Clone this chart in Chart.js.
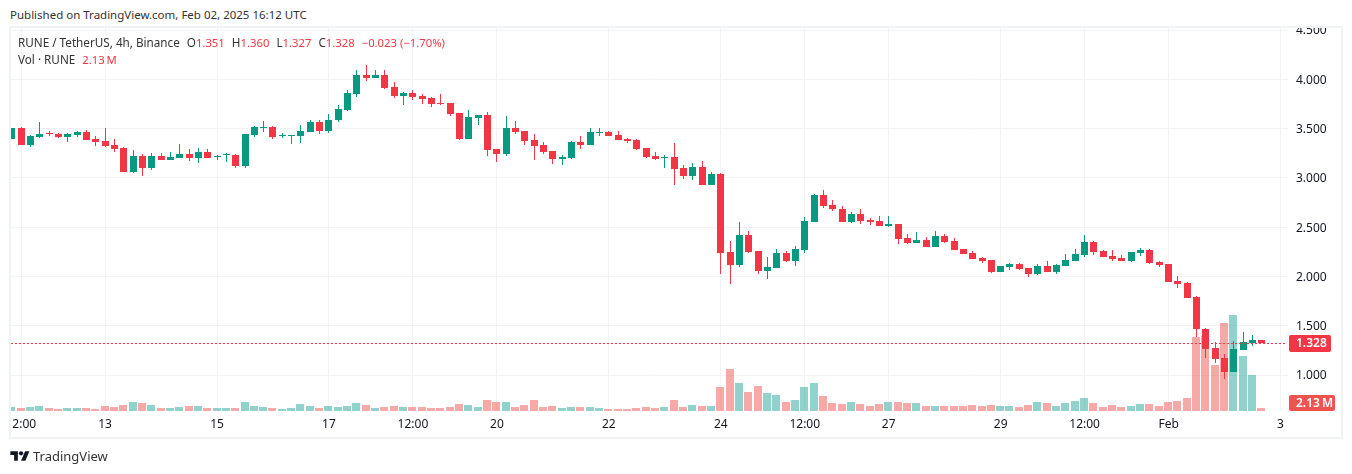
<!DOCTYPE html>
<html>
<head>
<meta charset="utf-8">
<script src="https://cdn.jsdelivr.net/npm/chart.js@4"></script>
<style>
    html, body { margin: 0; padding: 0; background: #fff; }
    body { width: 1352px; height: 474px; overflow: hidden; position: relative; font-family: "Noto Sans", sans-serif; color: #131722; }
    canvas { position: absolute; left: 0; top: 0; }
    .header { position: absolute; left: 0; top: 0; width: 1352px; height: 26px; background: #fff; }
    .published { position: absolute; left: 10px; top: 6px; font-size: 11.5px; line-height: 18px; white-space: nowrap; color: #333; }
    .frame { position: absolute; left: 9px; top: 26px; width: 1330px; height: 409px; border: 2px solid #f2f3f5; pointer-events: none; }
    .legend { position: absolute; left: 18px; font-size: 11.7px; line-height: 18px; white-space: nowrap; color: #333; }
    .legend b { font-weight: normal; font-size: 11.3px; color: #f23645; }
    .legend span { margin-left: 7px; }
    .brand { position: absolute; left: 33px; top: 447px; font-size: 13px; line-height: 18px; color: #333; }
    .logo { position: absolute; left: 10px; top: 449px; }
</style>
</head>
<body>
<canvas id="chart" width="1352" height="474"></canvas>
<div class="header"><div class="published">Published on TradingView.com, Feb 02, 2025 16:12 UTC</div></div>
<div class="frame"></div>
<div class="legend" style="top:33px">RUNE / TetherUS, 4h, Binance<span>O<b>1.351</b></span><span>H<b>1.360</b></span><span>L<b>1.327</b></span><span>C<b>1.328</b></span><span><b>−0.023 (−1.70%)</b></span></div>
<div class="legend" style="top:50px">Vol · RUNE<span><b>2.13&#8201;M</b></span></div>
<svg class="logo" width="20" height="15" viewBox="0 0 36 28" fill="#131722"><path d="M14 22H7V11H0V4h14v18zM28 22h-8l7.5-18h8L28 22z"/><circle cx="20" cy="8" r="4"/></svg>
<div class="brand">TradingView</div>

<script>
const opens = [
    3.395, 3.506, 3.337, 3.415, 3.456, 3.445, 3.418, 3.439, 3.466, 3.395,
    3.374, 3.334, 3.303, 3.060, 3.222, 3.100, 3.222, 3.182, 3.202, 3.242,
    3.202, 3.263, 3.209, 3.229, 3.232, 3.121, 3.435, 3.506, 3.516, 3.425,
    3.425, 3.425, 3.466, 3.567, 3.476, 3.587, 3.689, 3.851, 4.044, 4.014,
    4.044, 3.922, 3.831, 3.861, 3.834, 3.811, 3.757, 3.763, 3.659, 3.395,
    3.608, 3.638, 3.293, 3.243, 3.506, 3.476, 3.385, 3.334, 3.273, 3.192,
    3.202, 3.364, 3.334, 3.456, 3.466, 3.435, 3.395, 3.385, 3.303, 3.222,
    3.202, 3.212, 3.100, 3.019, 3.111, 2.928, 3.040, 2.248, 2.116, 2.421,
    2.258, 2.055, 2.086, 2.238, 2.157, 2.269, 2.553, 2.827, 2.725, 2.685,
    2.553, 2.634, 2.573, 2.563, 2.512, 2.532, 2.390, 2.339, 2.370, 2.299,
    2.410, 2.360, 2.279, 2.238, 2.187, 2.167, 2.045, 2.096, 2.126, 2.086,
    2.025, 2.106, 2.045, 2.106, 2.157, 2.218, 2.350, 2.258, 2.208, 2.187,
    2.157, 2.238, 2.269, 2.147, 2.126, 1.954, 1.934, 1.792, 1.467, 1.274,
    1.173, 1.031, 1.254, 1.325, 1.351
];
const closes = [
    3.510, 3.337, 3.425, 3.445, 3.445, 3.418, 3.445, 3.466, 3.388, 3.364,
    3.324, 3.293, 3.060, 3.222, 3.100, 3.222, 3.182, 3.212, 3.242, 3.202,
    3.263, 3.202, 3.222, 3.239, 3.121, 3.445, 3.516, 3.516, 3.415, 3.435,
    3.435, 3.476, 3.567, 3.476, 3.587, 3.696, 3.861, 4.044, 4.014, 4.044,
    3.912, 3.831, 3.861, 3.821, 3.800, 3.750, 3.746, 3.648, 3.395, 3.618,
    3.638, 3.283, 3.243, 3.506, 3.466, 3.374, 3.324, 3.263, 3.192, 3.212,
    3.364, 3.334, 3.466, 3.466, 3.425, 3.385, 3.374, 3.293, 3.212, 3.192,
    3.212, 3.090, 3.019, 3.111, 2.928, 3.040, 2.238, 2.116, 2.421, 2.248,
    2.055, 2.096, 2.238, 2.157, 2.279, 2.563, 2.827, 2.715, 2.685, 2.553,
    2.634, 2.563, 2.553, 2.512, 2.532, 2.380, 2.339, 2.370, 2.299, 2.410,
    2.350, 2.269, 2.228, 2.177, 2.157, 2.045, 2.106, 2.126, 2.076, 2.025,
    2.106, 2.045, 2.116, 2.167, 2.228, 2.350, 2.248, 2.197, 2.177, 2.157,
    2.248, 2.269, 2.137, 2.116, 1.944, 1.924, 1.782, 1.467, 1.264, 1.163,
    1.031, 1.264, 1.335, 1.355, 1.328
];
const highs = [
    3.510, 3.513, 3.432, 3.567, 3.476, 3.452, 3.452, 3.476, 3.483, 3.425,
    3.506, 3.395, 3.314, 3.283, 3.242, 3.253, 3.253, 3.263, 3.344, 3.293,
    3.303, 3.293, 3.232, 3.253, 3.242, 3.445, 3.527, 3.577, 3.527, 3.456,
    3.435, 3.537, 3.587, 3.587, 3.648, 3.740, 3.892, 4.095, 4.145, 4.095,
    4.095, 3.973, 3.871, 3.892, 3.851, 3.821, 3.851, 3.763, 3.659, 3.689,
    3.638, 3.669, 3.293, 3.628, 3.577, 3.476, 3.445, 3.364, 3.273, 3.232,
    3.374, 3.425, 3.506, 3.506, 3.476, 3.476, 3.405, 3.395, 3.303, 3.263,
    3.232, 3.354, 3.131, 3.151, 3.171, 3.060, 3.050, 2.360, 2.553, 2.461,
    2.258, 2.198, 2.279, 2.258, 2.309, 2.603, 2.837, 2.877, 2.776, 2.715,
    2.654, 2.685, 2.593, 2.613, 2.613, 2.532, 2.431, 2.451, 2.400, 2.461,
    2.431, 2.390, 2.279, 2.258, 2.198, 2.167, 2.106, 2.137, 2.137, 2.086,
    2.126, 2.157, 2.126, 2.228, 2.279, 2.421, 2.360, 2.269, 2.269, 2.218,
    2.248, 2.289, 2.279, 2.157, 2.126, 2.005, 1.944, 1.802, 1.477, 1.335,
    1.213, 1.345, 1.437, 1.406, 1.360
];
const lows = [
    3.395, 3.337, 3.314, 3.408, 3.425, 3.408, 3.364, 3.415, 3.385, 3.324,
    3.317, 3.263, 3.060, 3.050, 3.019, 3.080, 3.182, 3.182, 3.202, 3.171,
    3.151, 3.202, 3.182, 3.161, 3.100, 3.100, 3.415, 3.466, 3.395, 3.405,
    3.344, 3.354, 3.466, 3.445, 3.459, 3.567, 3.679, 3.821, 3.983, 4.014,
    3.902, 3.811, 3.740, 3.790, 3.750, 3.719, 3.740, 3.628, 3.385, 3.395,
    3.537, 3.222, 3.161, 3.222, 3.445, 3.334, 3.182, 3.243, 3.141, 3.131,
    3.192, 3.293, 3.334, 3.425, 3.425, 3.385, 3.354, 3.283, 3.202, 3.182,
    3.100, 2.928, 2.989, 2.979, 2.928, 2.928, 2.025, 1.924, 2.096, 2.238,
    2.025, 1.974, 2.086, 2.147, 2.106, 2.238, 2.553, 2.695, 2.664, 2.553,
    2.543, 2.532, 2.522, 2.512, 2.502, 2.329, 2.329, 2.339, 2.299, 2.299,
    2.339, 2.269, 2.228, 2.177, 2.137, 2.035, 2.045, 2.066, 2.066, 1.995,
    2.015, 2.045, 2.025, 2.106, 2.157, 2.197, 2.218, 2.197, 2.157, 2.157,
    2.147, 2.208, 2.126, 2.096, 1.944, 1.883, 1.782, 1.386, 1.173, 1.122,
    0.960, 1.031, 1.254, 1.295, 1.327
];
// millions of RUNE
const volumes = [
    3.2, 2.4, 3.2, 4.0, 2.4, 1.6, 2.4, 2.4, 2.4, 1.6,
    4.0, 3.2, 4.8, 7.2, 6.4, 4.8, 2.4, 2.4, 3.2, 4.0,
    4.0, 2.4, 2.4, 2.4, 2.4, 7.2, 4.0, 3.2, 2.4, 1.6,
    2.4, 5.6, 4.0, 2.4, 4.0, 3.2, 4.0, 6.4, 4.8, 2.4,
    3.2, 4.0, 3.2, 3.2, 3.2, 2.4, 2.4, 3.2, 5.6, 4.8,
    3.2, 8.8, 7.2, 7.2, 3.2, 4.8, 8.8, 3.2, 4.0, 2.4,
    3.2, 3.2, 3.2, 2.4, 1.6, 1.6, 1.6, 2.4, 3.2, 2.4,
    3.2, 8.8, 3.2, 4.8, 4.0, 4.0, 19.2, 33.6, 22.4, 15.2,
    20.0, 14.4, 12.8, 7.2, 8.8, 19.2, 22.4, 12.0, 6.4, 5.6,
    7.2, 5.6, 4.0, 5.6, 7.2, 7.2, 6.4, 6.4, 4.0, 4.0,
    4.0, 4.0, 4.0, 4.8, 4.0, 4.8, 4.0, 4.0, 3.2, 4.8,
    7.2, 6.4, 4.0, 6.4, 8.0, 10.4, 6.4, 3.2, 4.8, 3.2,
    4.0, 5.6, 5.6, 4.0, 7.2, 8.0, 10.4, 59.2, 60.0, 36.8,
    70.4, 76.8, 44.0, 28.8, 2.13
];
const xTickBars = [1, 10, 22, 34, 43, 52, 64, 76, 85, 94, 106, 115, 124, 136];
const xTickLabels = ['2:00', '13', '15', '17', '12:00', '20', '22', '24', '12:00', '27', '29', '12:00', 'Feb', '3'];
const priceTicks = [1, 1.5, 2, 2.5, 3, 3.5, 4, 4.5];
const lastPrice = 1.328;
const lastVolume = '2.13\u2009M';

const GREEN = '#089981';
const RED = '#f23645';
const GRID = '#f2f3f5';
const AXIS_FONT = { family: '"Noto Sans", sans-serif', size: 12 };

const isUp = i => closes[i] >= opens[i];
const candleColors = opens.map((_, i) => isUp(i) ? GREEN : RED);
const volumeColors = opens.map((_, i) => isUp(i) ? 'rgba(38, 166, 154, 0.5)' : 'rgba(239, 83, 80, 0.5)');

const X_MIN = -0.125;
const X_MAX = 136.8;

// TradingView draws on whole pixels, so snap the marks after layout
const pixelSnap = {
    id: 'pixelSnap',
    afterDatasetsUpdate(chart) {
        chart.data.datasets.forEach((ds, n) => {
            const marks = chart.getDatasetMeta(n).data;
            if (ds.type === 'line') {
                marks.forEach(pt => { pt.x = Math.round(pt.x); pt.y = Math.round(pt.y) + 0.5; });
                return;
            }
            marks.forEach(bar => {
                bar.x = ds.label === 'Volume' ? Math.floor(bar.x) : Math.floor(bar.x) + 0.5;
                bar.y = Math.round(bar.y);
                bar.base = Math.round(bar.base);
                if (bar.y === bar.base) bar.y -= 1;
            });
        });
    }
};

const lastValueTags = {
    id: 'lastValueTags',
    afterDraw(chart) {
        const ctx = chart.ctx;
        const area = chart.chartArea;
        const priceY = Math.round(chart.scales.y.getPixelForValue(lastPrice));
        const tag = (x, y, w, h, color, text) => {
            ctx.save();
            ctx.fillStyle = color;
            ctx.beginPath();
            ctx.roundRect(x, y, w, h, 2);
            ctx.fill();
            ctx.fillStyle = '#fff';
            ctx.font = '600 12px "Noto Sans", sans-serif';
            ctx.textAlign = 'left';
            ctx.textBaseline = 'middle';
            ctx.fillText(text, x + 7, y + h / 2 + 0.5);
            ctx.restore();
        };
        tag(area.right + 1, priceY - 8, 42, 17, RED, lastPrice.toFixed(3));
        tag(area.right + 1, area.bottom - 16, 46, 16, '#ef5350', lastVolume);
    }
};

new Chart(document.getElementById('chart'), {
    type: 'bar',
    data: {
        datasets: [
            {
                label: 'Volume',
                yAxisID: 'volume',
                data: volumes.map((v, i) => ({ x: i, y: v })),
                backgroundColor: volumeColors,
                barThickness: 8,
                order: 4
            },
            {
                label: 'Wick',
                data: highs.map((h, i) => ({ x: i, y: [lows[i], h] })),
                backgroundColor: candleColors,
                barThickness: 1,
                order: 3
            },
            {
                label: 'Body',
                data: opens.map((o, i) => ({ x: i, y: [o, closes[i]] })),
                backgroundColor: candleColors,
                barThickness: 7,
                order: 2
            },
            {
                type: 'line',
                label: 'Last',
                data: [{ x: X_MIN, y: lastPrice }, { x: 136.6, y: lastPrice }],
                borderColor: RED,
                borderWidth: 1,
                borderDash: [2, 2],
                pointRadius: 0,
                order: 1
            }
        ]
    },
    options: {
        responsive: false,
        animation: false,
        grouped: false,
        inflateAmount: 0,
        borderWidth: 0,
        layout: { padding: { left: 10, right: 11, top: 28, bottom: 37 } },
        plugins: { legend: { display: false }, tooltip: { enabled: false } },
        scales: {
            x: {
                type: 'linear',
                offset: false,
                min: X_MIN,
                max: X_MAX,
                afterBuildTicks: axis => { axis.ticks = xTickBars.map(v => ({ value: v })); },
                afterFit: axis => { axis.height = 26; },
                grid: { color: GRID, drawTicks: false, offset: false },
                border: { display: false },
                ticks: {
                    autoSkip: false,
                    maxRotation: 0,
                    padding: 6,
                    color: '#131722',
                    font: AXIS_FONT,
                    // the first label is cut by the pane edge in the original, nudge it right
                    callback: value => {
                        const label = xTickLabels[xTickBars.indexOf(value)];
                        return value === xTickBars[0] ? '  ' + label : label;
                    }
                }
            },
            y: {
                position: 'right',
                min: 0.6348,
                max: 4.5204,
                afterBuildTicks: axis => { axis.ticks = priceTicks.map(v => ({ value: v })); },
                afterFit: axis => { axis.width = 53; },
                grid: { color: GRID, drawTicks: false },
                border: { display: false },
                ticks: {
                    padding: 8,
                    labelOffset: 1,
                    color: '#131722',
                    font: AXIS_FONT,
                    callback: value => value.toFixed(3)
                }
            },
            volume: {
                display: false,
                min: 0,
                max: 306.4
            }
        }
    },
    plugins: [pixelSnap, lastValueTags]
});
</script>
</body>
</html>
